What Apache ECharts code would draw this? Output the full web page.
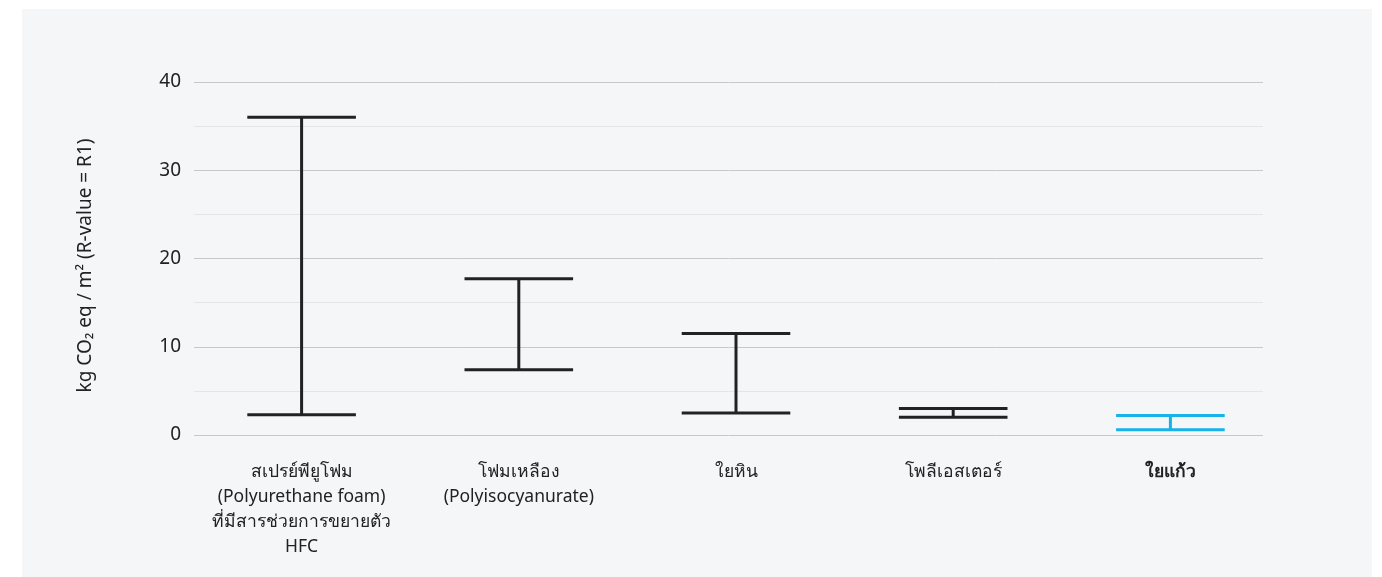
<!DOCTYPE html>
<html>
<head>
<meta charset="utf-8">
<script src="https://cdn.jsdelivr.net/npm/echarts@6/dist/echarts.min.js"></script>
<style>
html,body{margin:0;padding:0;background:#ffffff;}
#chart{width:1382px;height:577px;}
</style>
</head>
<body>
<div id="chart"></div>
<script>
var categories = [
  'สเปรย์พียูโฟม\n(Polyurethane foam)\nที่มีสารช่วยการขยายตัว\nHFC',
  'โฟมเหลือง\n(Polyisocyanurate)',
  'ใยหิน',
  'โพลีเอสเตอร์',
  'ใยแก้ว'
];
var lowValues  = [2.3, 7.4, 2.5, 2.0, 0.6];
var highValues = [36.0, 17.7, 11.5, 3.0, 2.2];
var barColors  = ['#222222', '#222222', '#222222', '#222222', '#17b2ea'];
var yTicks = [0, 10, 20, 30, 40];
var yAxisName = 'kg CO₂ eq / m² (R-value = R1)';

var FONT = '"Noto Sans", "Noto Sans CJK SC", sans-serif';
var chart = echarts.init(document.getElementById('chart'));

var data = categories.map(function (c, i) { return [i, lowValues[i], highValues[i]]; });

var option = {
  animation: false,
  textStyle: { fontFamily: FONT },
  graphic: [{
    type: 'rect', z: -10, silent: true,
    shape: { x: 22, y: 9, width: 1350, height: 568 },
    style: { fill: '#f5f6f8' }
  }],
  grid: [
    { left: 194, right: 119, top: 82, bottom: 142 },
    { left: 193, right: 103, top: 82, bottom: 142 }
  ],
  xAxis: [
    { type: 'value', gridIndex: 0, show: false, min: 0, max: 1 },
    {
      type: 'category', gridIndex: 1, data: categories,
      axisLine: { show: false }, axisTick: { show: false },
      axisLabel: {
        margin: 25, fontSize: 17.5, lineHeight: 25, color: '#222',
        fontFamily: FONT, interval: 0,
        formatter: function (v, i) { return i === categories.length - 1 ? '{b|' + v + '}' : v; },
        rich: { b: { fontWeight: 'bold', fontSize: 17.5, lineHeight: 25, color: '#222', fontFamily: FONT } }
      }
    }
  ],
  yAxis: [
    {
      type: 'value', gridIndex: 0, min: yTicks[0], max: yTicks[yTicks.length - 1], interval: 10,
      name: yAxisName, nameLocation: 'middle', nameGap: 99, nameRotate: 90,
      nameTextStyle: { fontSize: 19, color: '#222', fontFamily: FONT, padding: [0, 14, 0, 0] },
      axisLine: { show: false }, axisTick: { show: false },
      axisLabel: { fontSize: 19, color: '#222', margin: 13, fontFamily: FONT, padding: [2, 0, 0, 0] },
      splitLine: { show: true, lineStyle: { color: '#c8c8ca', width: 1 } },
      minorTick: { show: false, splitNumber: 2 },
      minorSplitLine: { show: true, lineStyle: { color: '#e4e5e8', width: 1 } }
    },
    {
      type: 'value', gridIndex: 1, min: 0, max: 40, show: false,
      splitLine: { show: false }
    }
  ],
  series: [{
    type: 'custom',
    xAxisIndex: 1, yAxisIndex: 1,
    data: data,
    encode: { x: 0, y: [1, 2] },
    renderItem: function (params, api) {
      var i = api.value(0);
      var lo = api.coord([i, api.value(1)]);
      var hi = api.coord([i, api.value(2)]);
      var half = api.size([1, 0])[0] * 0.25;
      var color = barColors[i];
      var st = { stroke: color, lineWidth: 3 };
      return {
        type: 'group',
        children: [
          { type: 'line', shape: { x1: lo[0], y1: lo[1], x2: hi[0], y2: hi[1] }, style: st },
          { type: 'line', shape: { x1: lo[0] - half, y1: lo[1], x2: lo[0] + half, y2: lo[1] }, style: st },
          { type: 'line', shape: { x1: hi[0] - half, y1: hi[1], x2: hi[0] + half, y2: hi[1] }, style: st }
        ]
      };
    }
  }]
};
chart.setOption(option);
</script>
</body>
</html>
